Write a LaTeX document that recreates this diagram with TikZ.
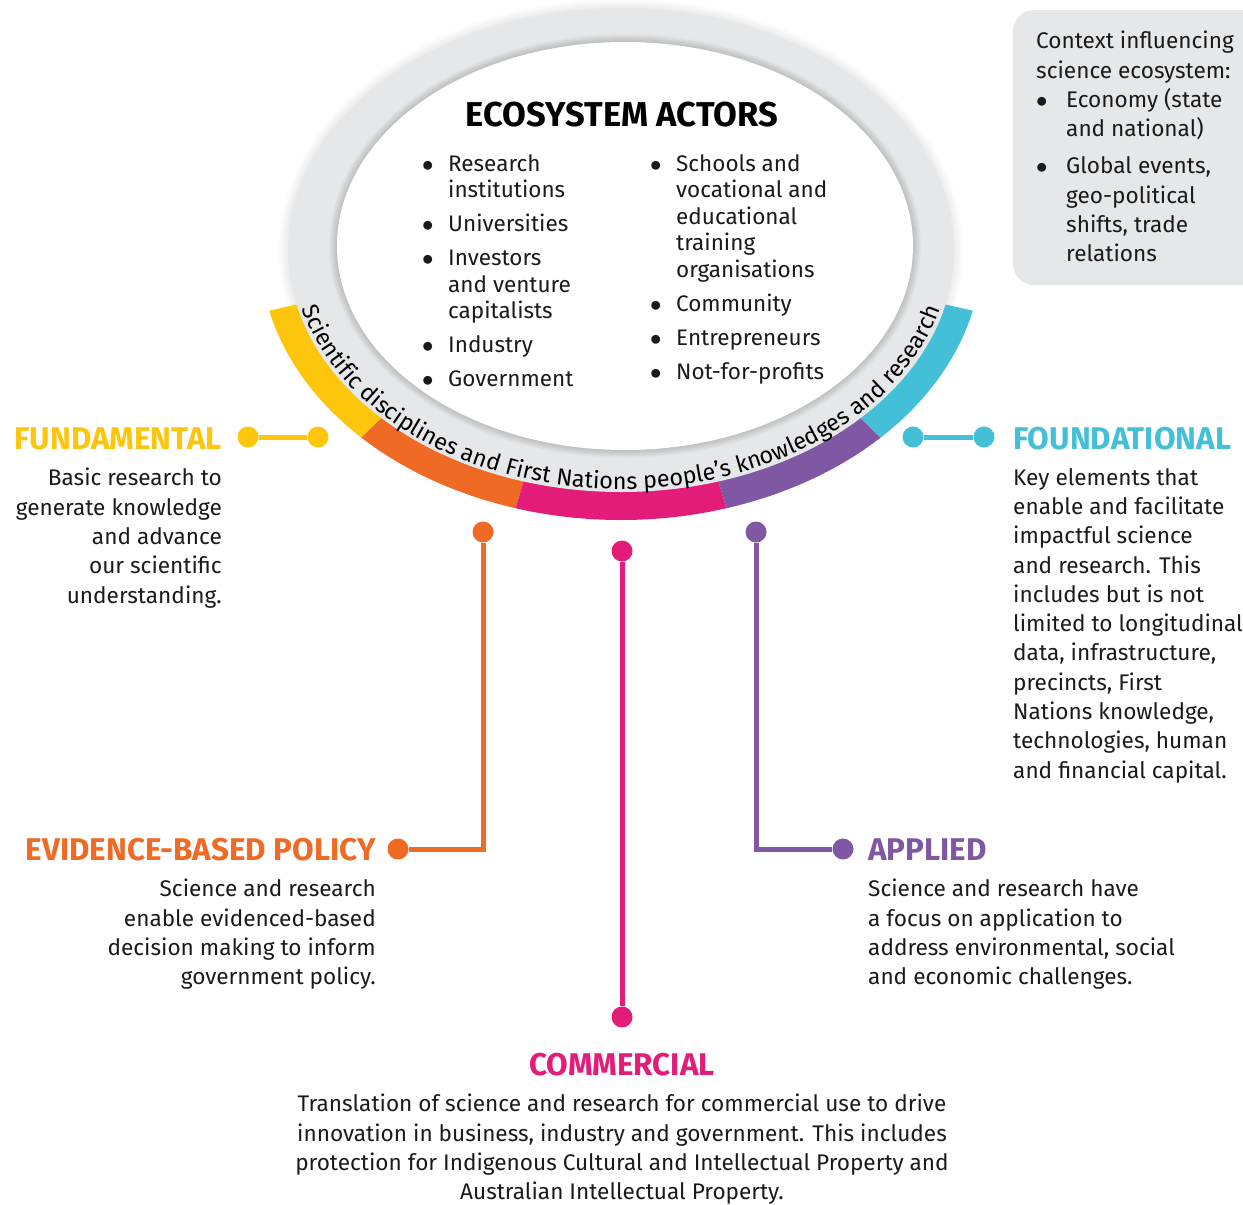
\documentclass[tikz,border=0pt]{standalone}
\usepackage{fontspec}
\setmainfont{Fira Sans}
\usetikzlibrary{decorations.text,calc}

\definecolor{cyellow}{HTML}{FDC50C}
\definecolor{corange}{HTML}{EE6A25}
\definecolor{cpink}{HTML}{E31B79}
\definecolor{cpurple}{HTML}{7F57A2}
\definecolor{ccyan}{HTML}{43BFD7}
\definecolor{ringgrey}{HTML}{E6E7E8}
\definecolor{inkblack}{HTML}{1A1A1A}

% bullet item and its continuation lines
\newcommand\bitem[2][26pt]{\makebox[#1][l]{\scalebox{1.1}{$\bullet$}}#2}
\newcommand\citem[2][26pt]{\hspace*{#1}#2}

% one coloured segment of the band under the ring: colour, start angle, end angle
\newcommand\bandseg[3]{%
  \fill[#1] ($(ringc)+({361*cos(#2)},{270*sin(#2)})$)
    arc[start angle=#2, end angle=#3, x radius=361pt, y radius=270pt]
    -- ($(ringc)+({330*cos(#3)},{239*sin(#3)})$)
    arc[start angle=#3, end angle=#2, x radius=330pt, y radius=239pt] -- cycle;}

\begin{document}
\begin{tikzpicture}[x=1pt,y=1pt,
  body/.style={inner sep=0pt, font=\fontsize{22.6}{29.3}\selectfont, text=inkblack},
  heading/.style={inner sep=0pt, font=\fontsize{31.4}{31.4}\selectfont\bfseries, text=#1},
  actor/.style={inner sep=0pt, align=left, font=\fontsize{22.5}{26.5}\selectfont, text=inkblack},
  dotnode/.style={circle, fill=#1, inner sep=0pt, minimum size=21pt},
  link/.style={draw=#1, line width=5pt},
]
\useasboundingbox (0,0) rectangle (1243,-1205);

\coordinate (ringc) at (621,-250);
\coordinate (innerc) at (625,-246);

% soft halo round the ring
\foreach \w in {3,6,...,18}
  \draw[black, opacity=0.012, line width=\w pt] (ringc) ellipse[x radius=333pt, y radius=242pt];

% coloured band
\bandseg{cyellow}{193}{224}
\bandseg{corange}{224}{253}
\bandseg{cpink}{253}{287}
\bandseg{cpurple}{287}{316}
\bandseg{ccyan}{316}{347}

% grey ring
\fill[ringgrey] (ringc) ellipse[x radius=333pt, y radius=242pt];
\foreach \w in {2,4,...,16}
  \draw[black, opacity=0.018, line width=\w pt] (innerc) ellipse[x radius=288pt, y radius=204pt];
\fill[white] (innerc) ellipse[x radius=288pt, y radius=204pt];

% text running round the lower part of the ring
\path[decorate, decoration={text along path, text align=center,
  text={|\fontsize{23.4}{23.4}\selectfont|Scientific disciplines and First Nations people’s knowledges and research}}]
  ($(ringc)+({329*cos(193.5)},{239*sin(193.5)})$)
  arc[start angle=193.5, end angle=346.5, x radius=329pt, y radius=239pt];

% ecosystem actors
\node[inner sep=0pt, font=\fontsize{34.5}{34.5}\selectfont\bfseries, text=black, anchor=base] (actorsTitle) at (622,-126) {ECOSYSTEM ACTORS};
\node[actor, anchor=north west] (actorsLeft) at (422,-154) {%
  \bitem{Research}\\ \citem{institutions}\\[7.5pt]
  \bitem{Universities}\\[7.5pt]
  \bitem{Investors}\\ \citem{and venture}\\ \citem{capitalists}\\[7.5pt]
  \bitem{Industry}\\[7.5pt]
  \bitem{Government}};
\node[actor, anchor=north west] (actorsRight) at (650,-154) {%
  \bitem{Schools and}\\ \citem{vocational and}\\ \citem{educational}\\ \citem{training}\\ \citem{organisations}\\[7.5pt]
  \bitem{Community}\\[7.5pt]
  \bitem{Entrepreneurs}\\[7.5pt]
  \bitem{Not-for-profits}};

% context box
\fill[ringgrey] (1243,-10) -- (1034,-10) arc[start angle=90, end angle=180, radius=21pt]
  -- (1013,-264) arc[start angle=180, end angle=270, radius=21pt] -- (1243,-285) -- cycle;
\node[body, align=left, anchor=north west] (context) at (1036,-31) {%
  Context influencing\\science ecosystem:\\
  \bitem[30pt]{Economy (state}\\ \citem[30pt]{and national)}\\[7.7pt]
  \bitem[30pt]{Global events,}\\ \citem[30pt]{geo-political}\\ \citem[30pt]{shifts, trade}\\ \citem[30pt]{relations}};

% fundamental
\node[heading=cyellow, anchor=base east] (fundamental) at (222,-449) {FUNDAMENTAL};
\node[body, anchor=north east, align=right] (fundamentalText) at (222,-468)
  {Basic research to\\generate knowledge\\and advance\\our scientific\\understanding.};
\node[dotnode=cyellow] (fundA) at (248,-437) {};
\node[dotnode=cyellow] (fundB) at (318,-437) {};
\draw[link=cyellow] (fundA) -- (fundB);

% foundational
\node[heading=ccyan, anchor=base west] (foundational) at (1013,-449) {FOUNDATIONAL};
\node[body, anchor=north west, align=left] (foundationalText) at (1013,-468)
  {Key elements that\\enable and facilitate\\impactful science\\and research. This\\includes but is not\\limited to longitudinal\\data, infrastructure,\\precincts, First\\Nations knowledge,\\technologies, human\\and financial capital.};
\node[dotnode=ccyan] (foundA) at (913,-437) {};
\node[dotnode=ccyan] (foundB) at (984,-437) {};
\draw[link=ccyan] (foundA) -- (foundB);

% evidence-based policy
\node[heading=corange, anchor=base east] (policy) at (376,-860) {EVIDENCE-BASED POLICY};
\node[body, anchor=north east, align=right] (policyText) at (376,-879)
  {Science and research\\enable evidenced-based\\decision making to inform\\government policy.};
\node[dotnode=corange] (policyA) at (483,-532) {};
\node[dotnode=corange] (policyB) at (398,-849) {};
\draw[link=corange] (policyA) |- (policyB);

% applied
\node[heading=cpurple, anchor=base west] (applied) at (868,-860) {APPLIED};
\node[body, anchor=north west, align=left] (appliedText) at (868,-879)
  {Science and research have\\a focus on application to\\address environmental, social\\and economic challenges.};
\node[dotnode=cpurple] (appliedA) at (756,-532) {};
\node[dotnode=cpurple] (appliedB) at (843,-849) {};
\draw[link=cpurple] (appliedA) |- (appliedB);

% commercial
\node[dotnode=cpink] (commA) at (622,-551) {};
\node[dotnode=cpink] (commB) at (622,-1017) {};
\draw[link=cpink] (commA) -- (commB);
\node[heading=cpink, anchor=base] (commercial) at (622,-1075) {COMMERCIAL};
\node[body, anchor=north, align=center] (commercialText) at (622,-1094)
  {Translation of science and research for commercial use to drive\\innovation in business, industry and government. This includes\\protection for Indigenous Cultural and Intellectual Property and\\Australian Intellectual Property.};
\end{tikzpicture}
\end{document}
